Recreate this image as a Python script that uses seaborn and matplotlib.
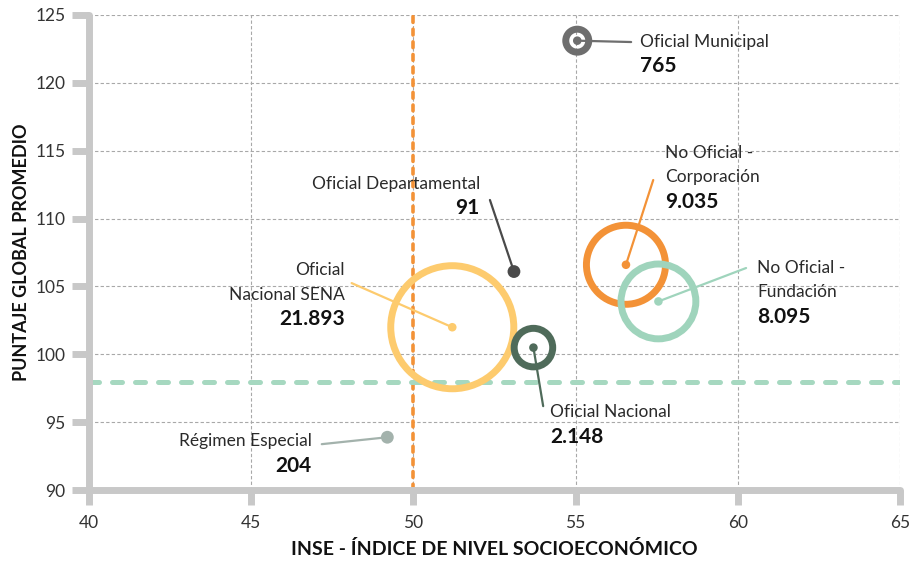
import numpy as np
import pandas as pd
import matplotlib
matplotlib.use("Agg")
import matplotlib.pyplot as plt
import seaborn as sns

# Data
sectors = ['Oficial Nacional SENA', 'No Oficial - Corporación', 'No Oficial - Fundación',
           'Oficial Nacional', 'Oficial Municipal', 'Régimen Especial', 'Oficial Departamental']
inse = [51.2, 56.55, 57.55, 53.7, 55.05, 49.2, 53.1]
puntaje = [102.0, 106.6, 103.9, 100.5, 123.1, 93.9, 106.1]
colegios = [21893, 9035, 8095, 2148, 765, 204, 91]
value_labels = ['21.893', '9.035', '8.095', '2.148', '765', '204', '91']
name_labels = ['Oficial\nNacional SENA', 'No Oficial -\nCorporación', 'No Oficial -\nFundación',
               'Oficial Nacional', 'Oficial Municipal', 'Régimen Especial', 'Oficial Departamental']
ref_inse = 50
ref_puntaje = 98
x_ticks = [40, 45, 50, 55, 60, 65]
y_ticks = [90, 95, 100, 105, 110, 115, 120, 125]

colors = {
    'Oficial Nacional SENA': '#FDCB6E',
    'No Oficial - Corporación': '#F39237',
    'No Oficial - Fundación': '#9FD4BC',
    'Oficial Nacional': '#4F6B5A',
    'Oficial Municipal': '#6E6E6E',
    'Régimen Especial': '#A3B2AC',
    'Oficial Departamental': '#4A4A4A',
}

# label layout: text x, first line y, alignment, connector start
label_pos = {
    'Oficial Nacional SENA': (47.89, 106.2, 'right', 48.1, 105.25),
    'No Oficial - Corporación': (57.76, 114.83, 'left', 57.39, 112.84),
    'No Oficial - Fundación': (60.59, 106.36, 'left', 60.25, 106.36),
    'Oficial Nacional': (54.21, 95.74, 'left', 54.0, 96.19),
    'Oficial Municipal': (56.98, 123.0, 'left', 56.71, 123.0),
    'Régimen Especial': (46.87, 93.6, 'right', 47.18, 93.39),
    'Oficial Departamental': (52.05, 112.55, 'right', 52.36, 111.37),
}
line_step = 1.8

df = pd.DataFrame({'sector': sectors, 'inse': inse, 'puntaje': puntaje,
                   'colegios': colegios, 'valor': value_labels, 'nombre': name_labels})

sns.set_style("white")
plt.rcParams['font.family'] = ['Lato', 'DejaVu Sans']

fig, ax = plt.subplots(figsize=(9.14, 5.72), dpi=100)
fig.subplots_adjust(left=0.097, right=0.985, top=0.974, bottom=0.143)

ax.set_xlim(40, 65)
ax.set_ylim(90, 125)
ax.set_xticks(x_ticks)
ax.set_yticks(y_ticks)
ax.grid(True, color='#A8A8A8', lw=0.8, linestyle=(0, (3, 2)), zorder=0)
ax.set_axisbelow(True)

# reference lines
ax.axvline(ref_inse, color='#F39237', lw=2.6, dashes=(1.6, 1.9),
           dash_capstyle='round', zorder=1)
ax.axhline(ref_puntaje, color='#A6D8C0', lw=3.6, dashes=(2.0, 2.6),
           dash_capstyle='round', zorder=1)

# connector lines
for _, r in df.iterrows():
    tx, ty, ha, cx, cy = label_pos[r['sector']]
    ax.plot([cx, r['inse']], [cy, r['puntaje']], color=colors[r['sector']],
            lw=1.6, zorder=2, solid_capstyle='round')

# rings, area proportional to number of schools
big = df[df['colegios'] >= 500]
sns.scatterplot(data=big, x='inse', y='puntaje', hue='sector', palette=colors,
                size='colegios', sizes=(0, 7850), size_norm=(0, max(colegios)),
                legend=False, ax=ax, zorder=3)
rings = ax.collections[-1]
rings.set_edgecolors(rings.get_facecolors())
rings.set_facecolors('none')
rings.set_linewidths(5)

# center dots
dot_sizes = np.where(df['colegios'] >= 500, 38, 85)
sns.scatterplot(data=df, x='inse', y='puntaje', hue='sector', palette=colors,
                s=dot_sizes, linewidth=0, legend=False, ax=ax, zorder=4)

# labels
for _, r in df.iterrows():
    tx, ty, ha, cx, cy = label_pos[r['sector']]
    lines = r['nombre'].split('\n')
    for i, ln in enumerate(lines):
        ax.text(tx, ty - i * line_step, ln, ha=ha, va='center', fontsize=12.5,
                color='#2A2A2A', zorder=5)
    ax.text(tx, ty - len(lines) * line_step, r['valor'], ha=ha, va='center',
            fontsize=15, fontweight='bold', color='#111111', zorder=5)

# axes styling
for s in ['top', 'right']:
    ax.spines[s].set_visible(False)
for s in ['left', 'bottom']:
    ax.spines[s].set_color('#C8C8C8')
    ax.spines[s].set_linewidth(5)
    ax.spines[s].set_capstyle('round')
ax.tick_params(axis='x', bottom=True, direction='out', length=11, width=5,
               color='#C8C8C8', pad=6.5, labelsize=12.5, labelcolor='#333333')
ax.tick_params(axis='y', left=True, direction='out', length=12, width=5,
               color='#C8C8C8', pad=4.5, labelsize=12.5, labelcolor='#333333')

ax.set_xlabel('INSE - ÍNDICE DE NIVEL SOCIOECONÓMICO', fontsize=14,
              fontweight='bold', color='#111111', labelpad=7)
ax.set_ylabel('PUNTAJE GLOBAL PROMEDIO', fontsize=13,
              fontweight='bold', color='#111111', labelpad=4)

fig.savefig('out.png', dpi=100)
